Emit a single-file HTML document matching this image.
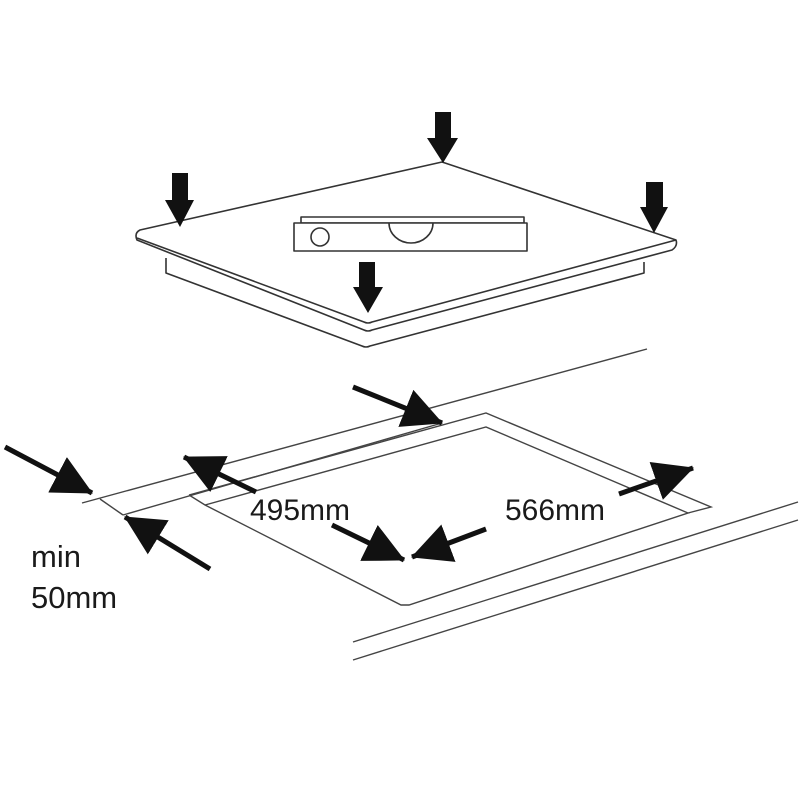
<!DOCTYPE html>
<html><head><meta charset="utf-8"><style>
html,body{margin:0;padding:0;background:#fff}
svg{display:block}
text{font-family:"Liberation Sans",sans-serif;fill:#1a1a1a}
</style></head><body>
<svg width="800" height="800" viewBox="0 0 800 800" xmlns="http://www.w3.org/2000/svg">
<defs>
<marker id="ah" markerUnits="userSpaceOnUse" markerWidth="40" markerHeight="40" viewBox="0 0 40 40" refX="39" refY="20" orient="auto">
<path d="M0,0 L40,20 L0,40 z" fill="#111"/>
</marker>
</defs>
<rect width="800" height="800" fill="#fff"/>
<g fill="none" stroke="#333" stroke-width="1.6" stroke-linejoin="round">
<path d="M166,258 L166,273 L362,346 Q366,348 370,346 L644,273 L644,262"/>
<path d="M442,162 L140,230 Q134,233 137,240 L364,330 Q368,332 372,330 L672,250 Q678,246 676,240 L442,162 Z" fill="#fff"/>
<path d="M137,238 L364,322 Q368,324 372,322 L676,240"/>
<rect x="301" y="217" width="223" height="6"/>
<rect x="294" y="223" width="233" height="28" fill="#fff"/>
<circle cx="320" cy="237" r="9"/>
<path d="M389,223 A22,20 0 0 0 433,223"/>
</g>
<g fill="#111">
<polygon points="435,112 451,112 451,138 458,138 443,163 427,138 435,138"/>
<polygon points="172,173 188,173 188,200 194,200 180,227 165,200 172,200"/>
<polygon points="646,182 663,182 663,207 668,207 654,233 640,207 646,207"/>
<polygon points="359,262 375,262 375,287 383,287 368,313 353,287 359,287"/>
</g>
<g fill="none" stroke="#444" stroke-width="1.4">
<line x1="82" y1="503" x2="647" y2="349"/>
<line x1="100" y1="499" x2="123" y2="515"/>
<line x1="123" y1="515" x2="442" y2="423"/>
<path d="M189,495 L486,413 L711,507 L688,513"/>
<path d="M189,495 L205,505 L486,427 L688,513 L409,605 L401,605 L205,505"/>
<line x1="353" y1="642" x2="798" y2="502"/>
<line x1="353" y1="660" x2="798" y2="520"/>
</g>
<g stroke="#111" stroke-width="5" marker-end="url(#ah)">
<line x1="353" y1="387" x2="442" y2="423"/>
<line x1="5" y1="447" x2="92" y2="493"/>
<line x1="210" y1="569" x2="125" y2="517"/>
<line x1="256" y1="492" x2="184" y2="457"/>
<line x1="619" y1="494" x2="693" y2="468"/>
<line x1="332" y1="525" x2="404" y2="560"/>
<line x1="486" y1="529" x2="412" y2="557"/>
</g>
<text x="250" y="520" font-size="30">495mm</text>
<text x="505" y="520" font-size="30">566mm</text>
<text x="31" y="567" font-size="31">min</text>
<text x="31" y="608" font-size="31">50mm</text>
</svg>
</body></html>
